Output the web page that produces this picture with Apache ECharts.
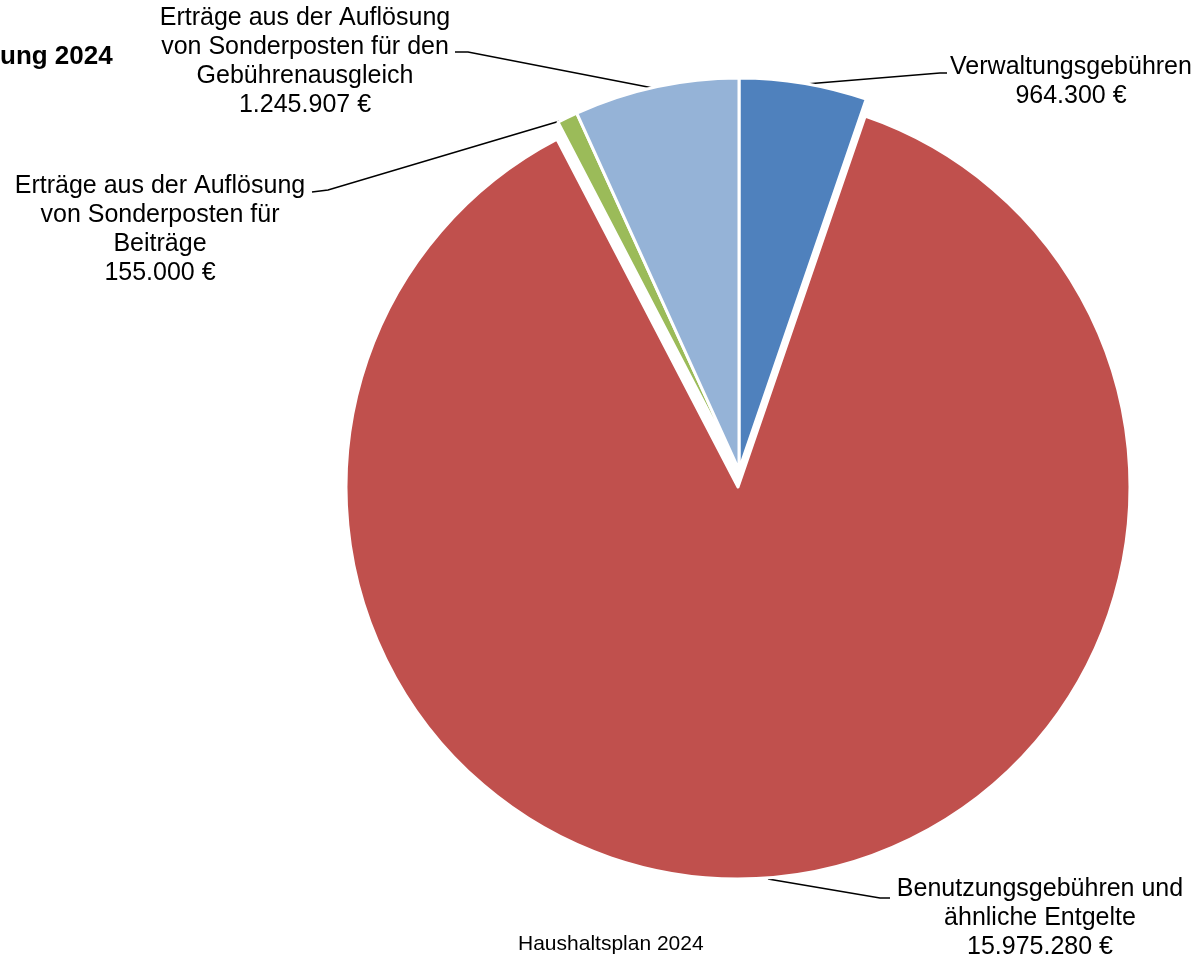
<!DOCTYPE html>
<html>
<head>
<meta charset="utf-8">
<script src="https://cdn.jsdelivr.net/npm/echarts@6/dist/echarts.min.js"></script>
<style>
  html, body { margin: 0; padding: 0; background: #fff; }
  #chart { width: 1196px; height: 959px; }
</style>
</head>
<body>
<div id="chart"></div>
<script>
// Daten (Haushaltsplan 2024)
var categories = [
  'Verwaltungsgebühren',
  'Benutzungsgebühren und\nähnliche Entgelte',
  'Erträge aus der Auflösung\nvon Sonderposten für\nBeiträge',
  'Erträge aus der Auflösung\nvon Sonderposten für den\nGebührenausgleich'
];
var values = [964300, 15975280, 155000, 1245907];
var colors = ['#4F81BD', '#C0504D', '#9BBB59', '#95B3D7'];

// Beschriftungen: Mitte des Textblocks und Führungslinien
var labelPos = [
  { x: 1071, y: 82 },
  { x: 1040, y: 918 },
  { x: 160, y: 230 },
  { x: 305, y: 62 }
];
var guideLines = [
  [[806, 84], [940, 73], [947, 73]],
  [[768, 879], [880, 898], [890, 898]],
  [[560, 121], [328, 190], [312, 192]],
  [[653, 88], [468, 52], [455, 52]]
];

var FONT = '"Liberation Sans", Arial, sans-serif';

function euro(v) {
  return v.toString().replace(/\B(?=(\d{3})+(?!\d))/g, '.') + ' €';
}

// der große Sektor ist leicht herausgezogen -> eigene Serie
function pieSeries(center, showIdx) {
  return {
    type: 'pie',
    center: center,
    radius: [0, 392],
    startAngle: 90,
    clockwise: true,
    emphasis: { disabled: true },
    label: {
      color: '#000',
      fontSize: 25,
      lineHeight: 29,
      fontFamily: FONT,
      align: 'center',
      formatter: function (p) { return p.name + '\n' + euro(p.value); }
    },
    labelLine: { lineStyle: { color: '#000', width: 1.5 } },
    labelLayout: function (params) {
      var i = params.dataIndex;
      return {
        x: labelPos[i].x,
        y: labelPos[i].y,
        align: 'center',
        verticalAlign: 'middle',
        labelLinePoints: guideLines[i]
      };
    },
    data: categories.map(function (c, i) {
      var on = showIdx(i);
      return {
        name: c,
        value: values[i],
        itemStyle: on
          ? { color: colors[i], borderColor: '#fff', borderWidth: 3 }
          : { color: 'rgba(0,0,0,0)', borderWidth: 0 },
        label: { show: on },
        labelLine: { show: on }
      };
    })
  };
}

var myChart = echarts.init(document.getElementById('chart'));

myChart.setOption({
  animation: false,
  graphic: [
    {
      type: 'text',
      left: 0,
      top: 44,
      style: { text: 'ung 2024', font: 'bold 26px ' + FONT, fill: '#000' }
    },
    {
      type: 'text',
      left: 518,
      top: 934,
      style: { text: 'Haushaltsplan 2024', font: '21px ' + FONT, fill: '#000' }
    }
  ],
  series: [
    pieSeries([739, 470], function (i) { return i !== 1; }),
    pieSeries([738, 487], function (i) { return i === 1; })
  ]
});
</script>
</body>
</html>
